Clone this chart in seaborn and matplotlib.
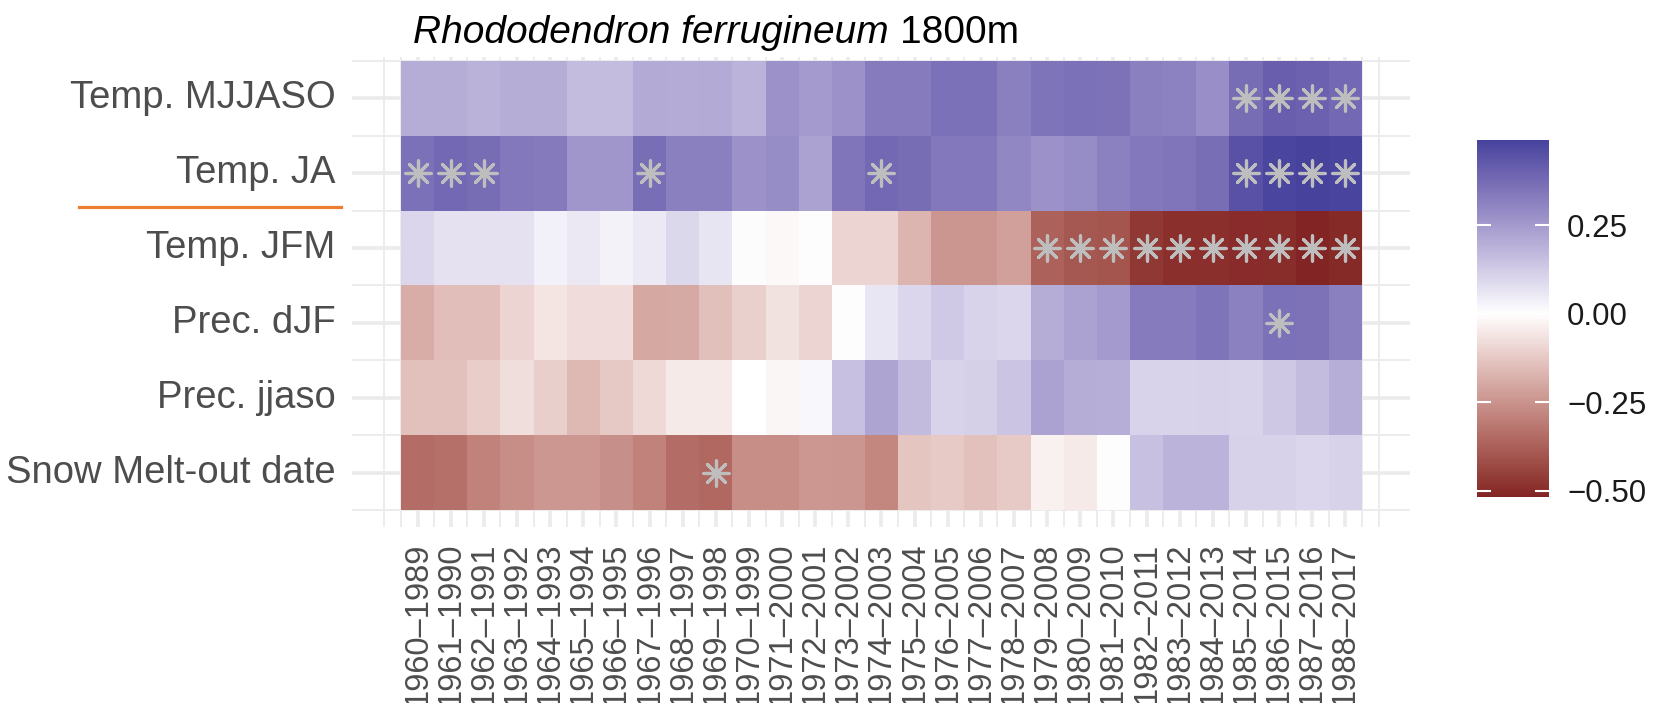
import numpy as np
import pandas as pd
import matplotlib
matplotlib.use("Agg")
import matplotlib.pyplot as plt
from matplotlib.colors import ListedColormap
from matplotlib.lines import Line2D
import seaborn as sns

# Moving 30-year windows
periods = [
    "1960–1989", "1961–1990", "1962–1991", "1963–1992", "1964–1993",
    "1965–1994", "1966–1995", "1967–1996", "1968–1997", "1969–1998",
    "1970–1999", "1971–2000", "1972–2001", "1973–2002", "1974–2003",
    "1975–2004", "1976–2005", "1977–2006", "1978–2007", "1979–2008",
    "1980–2009", "1981–2010", "1982–2011", "1983–2012", "1984–2013",
    "1985–2014", "1986–2015", "1987–2016", "1988–2017",
]

variables = ["Temp. MJJASO", "Temp. JA", "Temp. JFM",
             "Prec. dJF", "Prec. jjaso", "Snow Melt-out date"]

# Correlation values
temp_mjjaso = [0.20, 0.20, 0.19, 0.20, 0.20, 0.16, 0.16, 0.21, 0.205, 0.21,
               0.185, 0.27, 0.25, 0.27, 0.33, 0.33, 0.36, 0.36, 0.32, 0.35,
               0.36, 0.355, 0.32, 0.31, 0.28, 0.37, 0.41, 0.40, 0.38]
temp_ja = [0.36, 0.38, 0.37, 0.34, 0.335, 0.26, 0.26, 0.365, 0.32, 0.32,
           0.27, 0.285, 0.23, 0.345, 0.38, 0.37, 0.34, 0.34, 0.30, 0.27,
           0.285, 0.315, 0.34, 0.345, 0.365, 0.45, 0.48, 0.49, 0.485]
temp_jfm = [0.10, 0.07, 0.07, 0.07, 0.035, 0.055, 0.03, 0.05, 0.095, 0.065,
            0.01, -0.015, 0.005, -0.10, -0.10, -0.17, -0.245, -0.245, -0.22, -0.37,
            -0.395, -0.40, -0.47, -0.49, -0.49, -0.50, -0.495, -0.517, -0.505]
prec_djf = [-0.19, -0.15, -0.15, -0.10, -0.06, -0.08, -0.08, -0.20, -0.195, -0.145,
            -0.105, -0.065, -0.10, 0.005, 0.06, 0.10, 0.13, 0.105, 0.10, 0.20,
            0.23, 0.25, 0.33, 0.33, 0.35, 0.315, 0.36, 0.355, 0.32]
prec_jjaso = [-0.14, -0.14, -0.115, -0.075, -0.11, -0.16, -0.125, -0.085, -0.045, -0.045,
              0.0, -0.02, 0.02, 0.155, 0.225, 0.165, 0.105, 0.115, 0.14, 0.23,
              0.20, 0.195, 0.105, 0.105, 0.11, 0.105, 0.135, 0.16, 0.195]
snow_melt = [-0.34, -0.335, -0.29, -0.265, -0.24, -0.24, -0.26, -0.29, -0.34, -0.355,
             -0.265, -0.265, -0.24, -0.245, -0.28, -0.135, -0.12, -0.14, -0.12, -0.03,
             -0.045, -0.005, 0.155, 0.185, 0.185, 0.11, 0.11, 0.10, 0.11]

# Significant windows (column indices), marked with an asterisk
sig_mjjaso = [25, 26, 27, 28]
sig_ja = [0, 1, 2, 7, 14, 25, 26, 27, 28]
sig_jfm = [19, 20, 21, 22, 23, 24, 25, 26, 27, 28]
sig_djf = [26]
sig_jjaso = []
sig_snow = [9]

W, H = 1653, 703


def srgb_to_lab(hex_color):
    rgb = np.array(matplotlib.colors.to_rgb(hex_color))
    lin = np.where(rgb <= 0.04045, rgb / 12.92, ((rgb + 0.055) / 1.055) ** 2.4)
    m = np.array([[0.4124, 0.3576, 0.1805],
                  [0.2126, 0.7152, 0.0722],
                  [0.0193, 0.1192, 0.9505]])
    xyz = m @ lin / np.array([0.95047, 1.0, 1.08883])
    f = np.where(xyz > 0.008856, np.cbrt(xyz), (903.3 * xyz + 16) / 116)
    return np.array([116 * f[1] - 16, 500 * (f[0] - f[1]), 200 * (f[1] - f[2])])


def lab_to_srgb(lab):
    fy = (lab[0] + 16) / 116
    fx = fy + lab[1] / 500
    fz = fy - lab[2] / 200
    f = np.array([fx, fy, fz])
    xyz = np.where(f ** 3 > 0.008856, f ** 3, (116 * f - 16) / 903.3)
    xyz = xyz * np.array([0.95047, 1.0, 1.08883])
    m_inv = np.array([[3.2406, -1.5372, -0.4986],
                      [-0.9689, 1.8758, 0.0415],
                      [0.0557, -0.2040, 1.0570]])
    lin = np.clip(m_inv @ xyz, 0, 1)
    rgb = np.where(lin <= 0.0031308, 12.92 * lin, 1.055 * lin ** (1 / 2.4) - 0.055)
    return np.clip(rgb, 0, 1)


# Build dataframe
df = pd.DataFrame(
    [temp_mjjaso, temp_ja, temp_jfm, prec_djf, prec_jjaso, snow_melt],
    index=variables, columns=periods,
)
sig = [sig_mjjaso, sig_ja, sig_jfm, sig_djf, sig_jjaso, sig_snow]

vmin, vmax = df.values.min(), df.values.max()
half = max(abs(vmin), abs(vmax))

# Diverging red - white - blue palette, interpolated in Lab, midpoint 0
low, mid, high = srgb_to_lab("#832424"), srgb_to_lab("#FFFFFF"), srgb_to_lab("#3A3A98")
colors = []
for v in np.linspace(vmin, vmax, 256):
    t = v / (2 * half) + 0.5
    if t < 0.5:
        lab = low + (mid - low) * (t / 0.5)
    else:
        lab = mid + (high - mid) * ((t - 0.5) / 0.5)
    colors.append(lab_to_srgb(lab))
cmap = ListedColormap(colors)

plt.rcParams["font.family"] = ["Liberation Sans", "DejaVu Sans"]

fig = plt.figure(figsize=(W / 100, H / 100), dpi=100)
ax = fig.add_axes([352 / W, 1 - 527 / H, (1410 - 352) / W, (527 - 57) / H])
cax = fig.add_axes([1477 / W, 1 - 497 / H, 72 / W, 357 / H])

sns.heatmap(
    df, ax=ax, cbar_ax=cax, cmap=cmap, vmin=vmin, vmax=vmax,
    xticklabels=periods, yticklabels=variables,
    cbar_kws={"ticks": [-0.5, -0.25, 0.0, 0.25]},
)

# Significance asterisks
for r, cols in enumerate(sig):
    if cols:
        ax.scatter(np.array(cols) + 0.5, np.full(len(cols), r + 0.5),
                   marker=(8, 2, 0), s=330, color="#BEBEBE", linewidths=2.3, zorder=3)

# Limits, so the grid shows around the tiles
ax.set_xlim(-1.48, 30.45)
ax.set_ylim(6.227, -0.053)

# Grid lines behind the tiles
ax.set_axisbelow(True)
ax.set_xticks([-0.5] + list(range(30)) + [29.5], minor=True)
ax.set_yticks(range(7), minor=True)
ax.grid(which="major", color="#EBEBEB", linewidth=2.6)
ax.grid(which="minor", color="#EBEBEB", linewidth=1.3)
for s in ax.spines.values():
    s.set_visible(False)

ax.set_xlabel("")
ax.set_ylabel("")
ax.tick_params(axis="both", which="both", length=0)
ax.tick_params(axis="y", labelsize=27.5, labelcolor="#4D4D4D", pad=12, rotation=0)
ax.tick_params(axis="x", labelsize=23.5, labelcolor="#4D4D4D", pad=11, rotation=90)

# Colorbar styling
cbar = ax.collections[0].colorbar
cbar.outline.set_visible(False)
cbar.set_ticklabels(["−0.50", "−0.25", "0.00", "0.25"])
cax.tick_params(length=0, labelsize=22.5, labelcolor="#1A1A1A", pad=13)
for t in [-0.5, -0.25, 0.0, 0.25]:
    cax.hlines(t, 0, 0.2, color="white", linewidth=1.5)
    cax.hlines(t, 0.8, 1.0, color="white", linewidth=1.5)

# Title: italic species name followed by the elevation
title_size = 28
t1 = fig.text(413 / W, 1 - 43 / H, "Rhododendron ferrugineum",
              style="italic", fontsize=title_size, color="black", va="baseline")
fig.canvas.draw()
x_end = t1.get_window_extent().x1 + 0.28 * title_size * 100 / 72
fig.text(x_end / W, 1 - 43 / H, "1800m",
         fontsize=title_size, color="black", va="baseline")

# Orange marker line under "Temp. JA"
fig.add_artist(Line2D([79 / W, 341 / W], [1 - 207 / H, 1 - 207 / H],
                      transform=fig.transFigure, color="#ED7D31", linewidth=2.3))

fig.savefig("out.png", dpi=100)
